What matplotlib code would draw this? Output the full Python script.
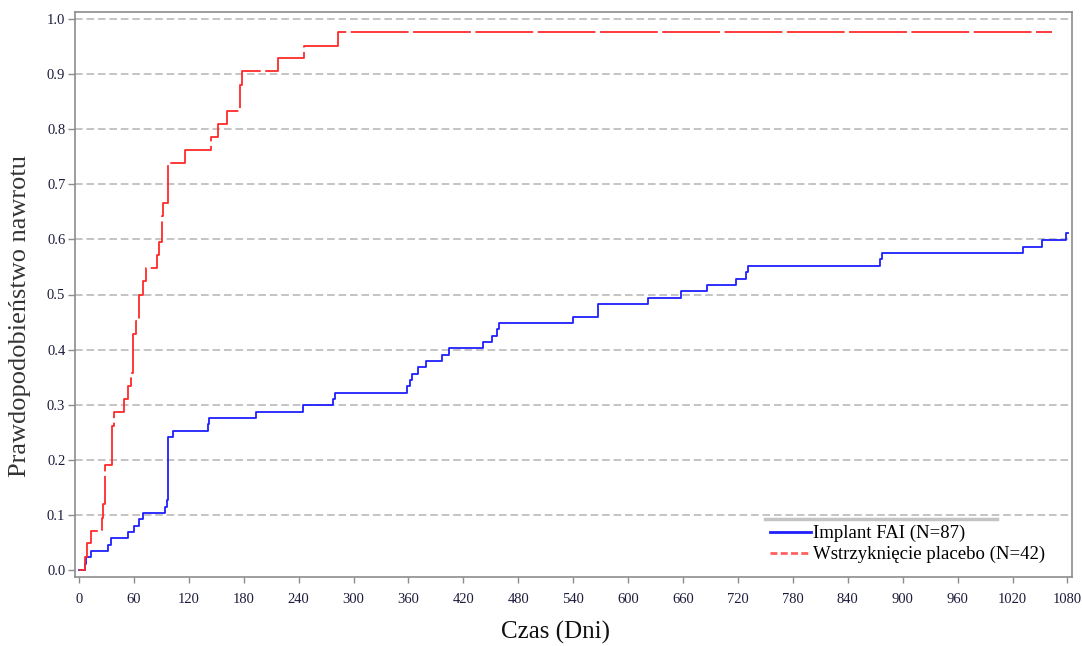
import matplotlib
matplotlib.use("Agg")
import matplotlib.pyplot as plt
from matplotlib.lines import Line2D
import numpy as np

# Kaplan-Meier curves (days, cumulative probability)
fai_days = [0, 7, 7.7, 13, 32, 35.4, 53.9, 60, 66, 69.6, 94, 95.8, 97.6, 103,
            140.6, 142.4, 193, 244.4, 277.8, 279.7, 358.8, 361.7, 363.5, 370,
            378.8, 396.3, 404.4, 441.2, 451, 457.2, 459, 539.5, 567.5, 622,
            657.4, 686.5, 717.5, 728.5, 731.4, 875.5, 877, 1031, 1052, 1078, 1081]
fai_prob = [0, 0.0115, 0.023, 0.035, 0.046, 0.058, 0.069, 0.080, 0.092, 0.104,
            0.115, 0.126, 0.241, 0.253, 0.264, 0.276, 0.287, 0.299, 0.310, 0.322,
            0.333, 0.345, 0.356, 0.368, 0.379, 0.391, 0.402, 0.414, 0.425, 0.437,
            0.448, 0.460, 0.483, 0.494, 0.506, 0.517, 0.529, 0.540, 0.552, 0.564,
            0.575, 0.587, 0.599, 0.612, 0.612]

placebo_days = [0, 6.5, 8.7, 13, 24.8, 26.6, 28, 36.4, 38, 49, 54, 56.5, 58.7,
                62, 66, 69.6, 72.9, 84.9, 87.4, 91, 92, 97.6, 115.7, 144, 152,
                161.5, 176, 177.8, 217.8, 246, 283.4, 1063]
placebo_prob = [0, 0.024, 0.048, 0.071, 0.095, 0.119, 0.190, 0.262, 0.286, 0.310,
                0.333, 0.357, 0.429, 0.452, 0.500, 0.524, 0.548, 0.571, 0.595,
                0.643, 0.667, 0.738, 0.762, 0.786, 0.810, 0.833, 0.881, 0.905,
                0.929, 0.952, 0.976, 0.976]

x_ticks = np.arange(0, 1081, 60)
y_ticks = np.round(np.arange(0, 1.01, 0.1), 1)

labels = ["Implant FAI (N=87)", "Wstrzyknięcie placebo (N=42)"]

serif = ["Liberation Serif", "DejaVu Serif"]
blue = "#1f1fff"
red = "#ff2a2a"

fig = plt.figure(figsize=(10.82, 6.46), dpi=100)
ax = fig.add_axes([75 / 1082, 1 - 577 / 646, 997 / 1082, 565 / 646])

ax.step(fai_days, fai_prob, where="post", color=blue, lw=1.3, zorder=3)
ax.step(placebo_days, placebo_prob, where="post", color=red, lw=1.3,
        dashes=(32, 2.5), zorder=4)

ax.set_xlim(-4.4, 1085)
ax.set_ylim(-0.013, 1.013)
ax.set_xticks(x_ticks)
ax.set_yticks(y_ticks)
ax.set_yticklabels([f"{v:.1f}" for v in y_ticks])

ax.grid(axis="y", color="#b4b4b4", linestyle=(0, (5, 2.5)), lw=1.1)
ax.get_ygridlines()[0].set_visible(False)

for s in ax.spines.values():
    s.set_color("#8c8c8c")
    s.set_linewidth(1.2)

ax.tick_params(axis="x", length=4.5, width=1, color="#8c8c8c", pad=7,
               labelsize=10.5, labelcolor="#1c1c3c")
ax.tick_params(axis="y", length=5, width=1, color="#8c8c8c", pad=2,
               labelsize=10.5, labelcolor="#1c1c3c")
for lab in ax.get_xticklabels() + ax.get_yticklabels():
    lab.set_fontfamily(serif)

# legend: no frame, grey bar above it
handles = [Line2D([], [], color=blue, lw=2),
           Line2D([], [], color="#ff6060", lw=2, dashes=(2.5, 1.2))]
leg = ax.legend(handles, labels, loc="upper left", bbox_to_anchor=(0.697, 0.092),
                frameon=False, borderpad=0, borderaxespad=0, handlelength=2.2,
                handletextpad=0.1, labelspacing=0.2,
                prop={"family": serif, "size": 13.5})
ax.add_line(Line2D([0.692, 0.925], [0.102, 0.102], transform=ax.transAxes,
                   color="#c4c4c4", lw=2.5, zorder=5))

fig.text(20 / 1082, 1 - 316 / 646, "Prawdopodobieństwo nawrotu", rotation=90,
         ha="center", va="center", family=serif, size=19, color="#333333")
fig.text(555 / 1082, 1 - 632 / 646, "Czas (Dni)", ha="center", va="center",
         family=serif, size=18, color="#111111")

fig.savefig("out.png", dpi=100)
